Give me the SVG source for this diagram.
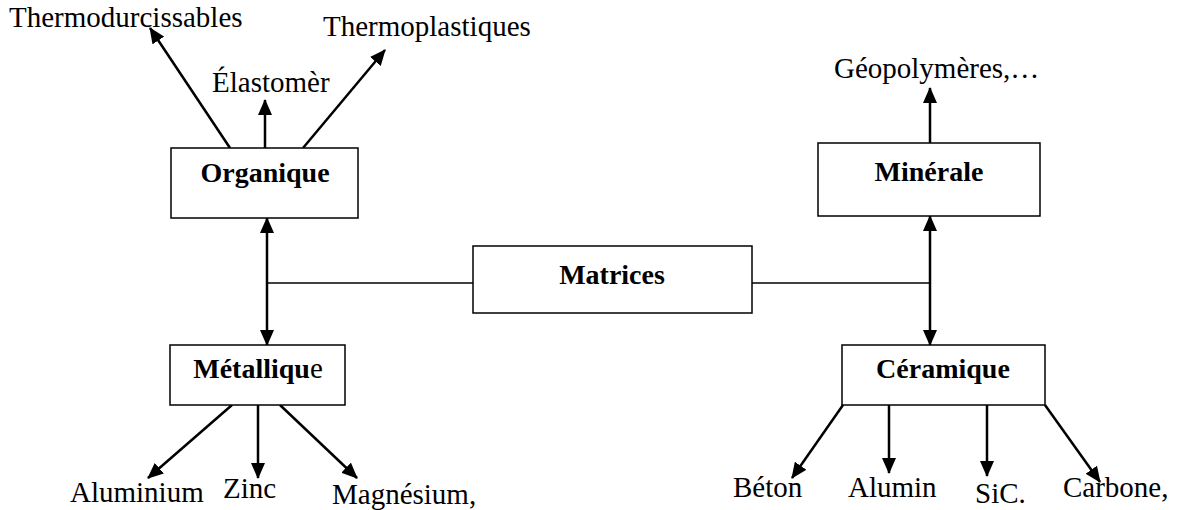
<svg xmlns="http://www.w3.org/2000/svg" width="1181" height="510" viewBox="0 0 1181 510">
<defs>
<marker id="ah" markerUnits="userSpaceOnUse" markerWidth="16" markerHeight="14" refX="15" refY="7" orient="auto-start-reverse" viewBox="0 0 16 14">
<path d="M0,0 L16,7 L0,14 Z" fill="#000"/>
</marker>
</defs>
<style>
.box{fill:#fff;stroke:#000;stroke-width:1.5}
.t{font-family:"Liberation Serif","Times New Roman",serif;font-size:29px;fill:#000}
.b{font-weight:bold;font-size:28px}
.a{stroke:#000;stroke-width:2.5;fill:none;marker-end:url(#ah)}
.d{stroke:#000;stroke-width:2.5;fill:none;marker-end:url(#ah);marker-start:url(#ah)}
.l{stroke:#000;stroke-width:1.5;fill:none}
</style>
<rect width="1181" height="510" fill="#fff"/>
<g id="connectors">
<line class="a" x1="230" y1="148" x2="150" y2="28"/>
<line class="a" x1="265" y1="148" x2="265" y2="100"/>
<line class="a" x1="303" y1="148" x2="385" y2="50"/>
<line class="a" x1="930" y1="143" x2="930" y2="88"/>
<line class="l" x1="267" y1="283" x2="473" y2="283"/>
<line class="l" x1="752" y1="283" x2="930" y2="283"/>
<line class="d" x1="267" y1="218" x2="267" y2="345"/>
<line class="d" x1="930" y1="216" x2="930" y2="345"/>
<line class="a" x1="232" y1="405" x2="148" y2="478"/>
<line class="a" x1="258" y1="405" x2="258" y2="478"/>
<line class="a" x1="280" y1="405" x2="357" y2="478"/>
<line class="a" x1="843" y1="405" x2="792" y2="478"/>
<line class="a" x1="889" y1="405" x2="889" y2="473"/>
<line class="a" x1="987" y1="405" x2="987" y2="476"/>
<line class="a" x1="1045" y1="405" x2="1100" y2="482"/>
</g>
<g id="organique">
<rect class="box" x="171" y="148" width="187" height="70"/>
<text class="t b" x="265" y="182" text-anchor="middle">Organique</text>
</g>
<g id="thermodurcissables"><text class="t" x="9" y="27">Thermodurcissables</text></g>
<g id="thermoplastiques"><text class="t" x="323" y="36">Thermoplastiques</text></g>
<g id="elastomer"><text class="t" x="212" y="92">Élastomèr</text></g>
<g id="minerale">
<rect class="box" x="818" y="143" width="222" height="73"/>
<text class="t b" x="929" y="181" text-anchor="middle">Minérale</text>
</g>
<g id="geopolymeres"><text class="t" x="834" y="78">Géopolymères,…</text></g>
<g id="matrices">
<rect class="box" x="473" y="246" width="279" height="67"/>
<text class="t b" x="612" y="284" text-anchor="middle">Matrices</text>
</g>
<g id="metallique">
<rect class="box" x="170" y="345" width="175" height="60"/>
<text class="t" x="258" y="378" text-anchor="middle"><tspan class="b">Métalliqu</tspan>e</text>
</g>
<g id="ceramique">
<rect class="box" x="842" y="345" width="203" height="60"/>
<text class="t b" x="943" y="378" text-anchor="middle">Céramique</text>
</g>
<g id="aluminium"><text class="t" x="70" y="502">Aluminium</text></g>
<g id="zinc"><text class="t" x="223" y="498">Zinc</text></g>
<g id="magnesium"><text class="t" x="332" y="504">Magnésium,</text></g>
<g id="beton"><text class="t" x="733" y="497">Béton</text></g>
<g id="alumin"><text class="t" x="848" y="497">Alumin</text></g>
<g id="sic"><text class="t" x="975" y="503">SiC.</text></g>
<g id="carbone"><text class="t" x="1063" y="497">Carbone,</text></g>
</svg>
